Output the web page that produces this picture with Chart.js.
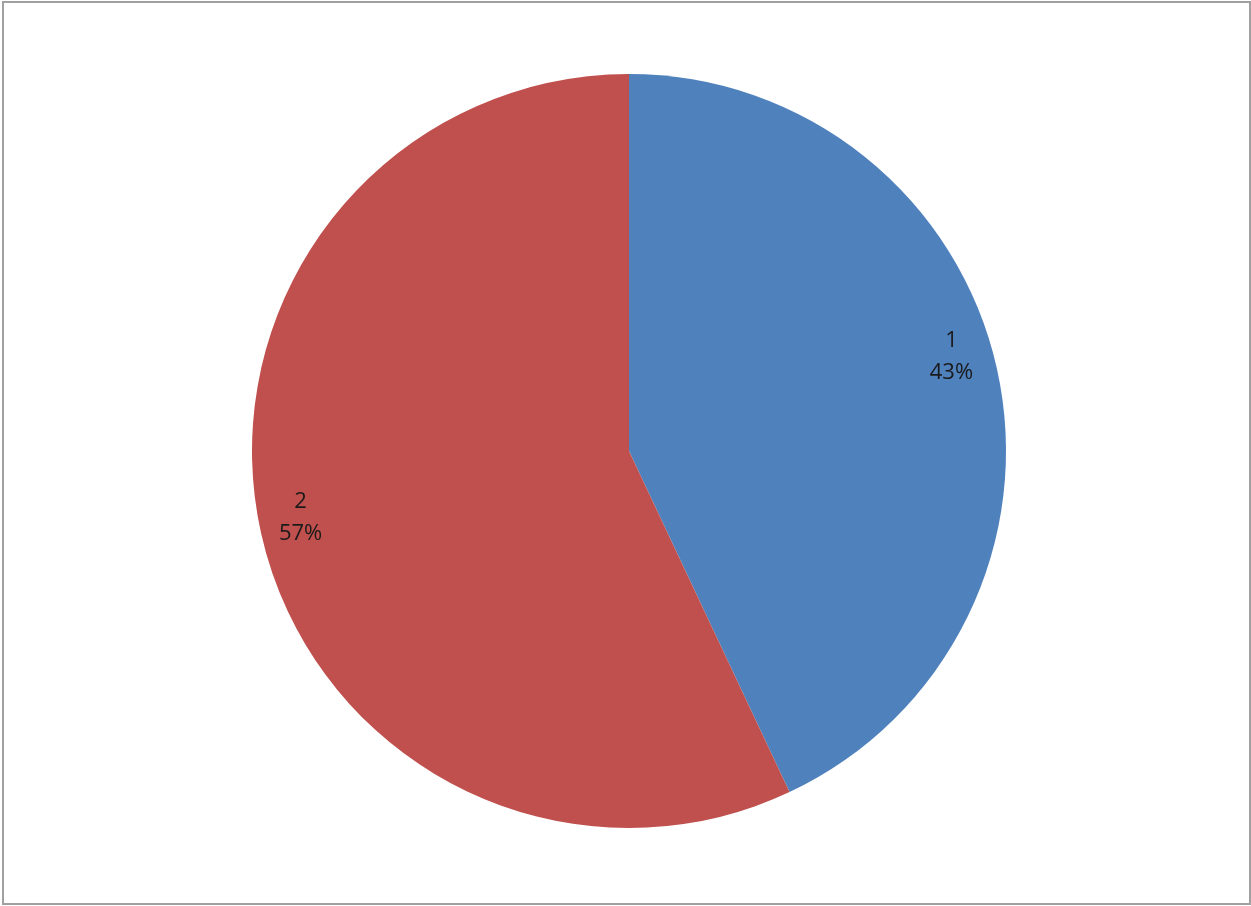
<!DOCTYPE html>
<html>
<head>
<meta charset="utf-8">
<title>Pie</title>
<script src="https://cdn.jsdelivr.net/npm/chart.js@4/dist/chart.umd.min.js"></script>
<style>
    html, body { margin: 0; padding: 0; background: #fff; }
    #wrap { position: relative; width: 1251px; height: 906px; overflow: hidden; }
    #pieChart { position: absolute; left: 0; top: 0; }
    #frame {
        position: absolute; left: 2px; top: 1px; width: 1245px; height: 900px;
        border: 2px solid #a0a0a0; pointer-events: none;
    }
</style>
</head>
<body>
<div id="wrap">
    <canvas id="pieChart" width="1251" height="906"></canvas>
    <div id="frame"></div>
</div>
<script>
const categories = ['1', '2'];
const values = [43, 57];
const sliceColors = ['#4F81BD', '#C0504D'];

// small nudges so labels sit like "inside end" labels
const labelNudge = [[-5, -21], [-1, -6]];

const sliceLabels = {
    id: 'sliceLabels',
    afterDatasetsDraw(chart) {
        const ctx = chart.ctx;
        const meta = chart.getDatasetMeta(0);
        const total = values.reduce((a, b) => a + b, 0);
        ctx.save();
        ctx.font = '22px "Open Sans", "DejaVu Sans", sans-serif';
        ctx.fillStyle = '#1a1a1a';
        ctx.textAlign = 'center';
        ctx.textBaseline = 'middle';
        meta.data.forEach((arc, i) => {
            const mid = (arc.startAngle + arc.endAngle) / 2;
            const r = arc.outerRadius * 0.89;
            const x = arc.x + Math.cos(mid) * r + labelNudge[i][0];
            const y = arc.y + Math.sin(mid) * r + labelNudge[i][1];
            const pct = Math.round(values[i] / total * 100) + '%';
            ctx.fillText(categories[i], x, y - 16);
            ctx.fillText(pct, x, y + 16);
        });
        ctx.restore();
    }
};

new Chart(document.getElementById('pieChart').getContext('2d'), {
    type: 'pie',
    data: {
        labels: categories,
        datasets: [{
            data: values,
            backgroundColor: sliceColors,
            borderWidth: 0
        }]
    },
    options: {
        responsive: false,
        animation: false,
        layout: { padding: { top: 74, bottom: 78, left: 7, right: 0 } },
        plugins: {
            legend: { display: false },
            tooltip: { enabled: false }
        }
    },
    plugins: [sliceLabels]
});
</script>
</body>
</html>
